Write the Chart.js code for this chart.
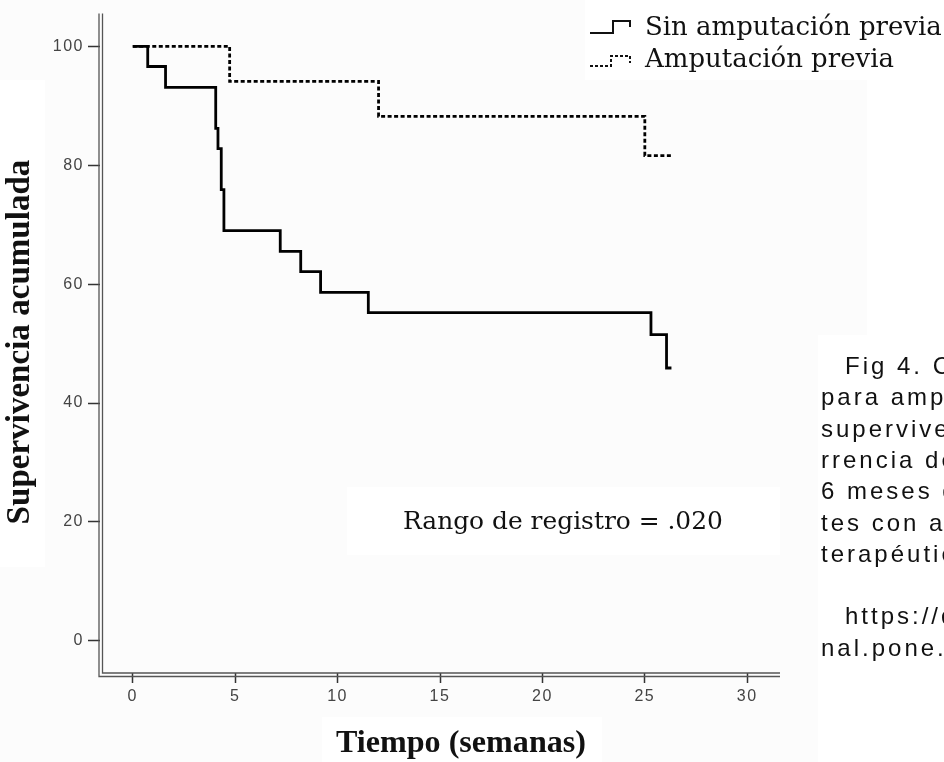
<!DOCTYPE html>
<html lang="es">
<head>
<meta charset="UTF-8">
<title>Supervivencia acumulada</title>
<script src="https://cdn.jsdelivr.net/npm/chart.js@4"></script>
<style>
  html, body { margin: 0; padding: 0; background: #fcfcfc; overflow: hidden; }
  #wrap { position: relative; width: 944px; height: 762px; }
</style>
</head>
<body>
<div id="wrap"><canvas id="km" width="944" height="762"></canvas></div>
<script>
// curvas Kaplan-Meier, tiempo en semanas, supervivencia en %
const sinTiempo = [0, 0.73, 1.6, 4.05, 4.16, 4.32, 4.45, 7.2, 8.2, 9.17, 11.5, 25.3, 26.06, 26.3];
const sinSuperv = [100, 96.6, 93.1, 86.2, 82.8, 75.9, 69.0, 65.5, 62.1, 58.6, 55.2, 51.5, 45.9, 45.9];
const conTiempo = [0, 4.73, 12.0, 25.0, 26.3];
const conSuperv = [100, 94.1, 88.2, 81.6, 81.6];

const xTicks = [0, 5, 10, 15, 20, 25, 30];
const yTicks = [0, 20, 40, 60, 80, 100];

const serieNombres = ['Sin amputación previa', 'Amputación previa'];
const tituloX = 'Tiempo (semanas)';
const tituloY = 'Supervivencia acumulada';
const nota = 'Rango de registro = .020';
const pieLineas = [
  'Fig 4. Curvas de Kaplan-Meier',
  'para amputación mayor, de',
  'supervivencia libre de ocu-',
  'rrencia de amputación a los',
  '6 meses de los pacien-',
  'tes con abordaje previo',
  'terapéutico.',
  '',
  'https://doi.org/10.1371/jour-',
  'nal.pone.0000000.g004'
];

function puntos(xs, ys) {
  return xs.map((x, i) => ({ x: x, y: ys[i] }));
}

// ajusta el tamaño de letra a un ancho dado
function tamano(ctx, texto, familia, peso, ancho) {
  ctx.font = peso + ' 100px ' + familia;
  return 100 * ancho / ctx.measureText(texto).width;
}

const fondo = {
  id: 'fondo',
  beforeDraw(chart) {
    const ctx = chart.ctx;
    ctx.save();
    ctx.fillStyle = '#fcfcfc';
    ctx.fillRect(0, 0, chart.width, chart.height);
    ctx.fillStyle = '#ffffff';
    ctx.fillRect(585, 0, 359, 80);
    ctx.fillRect(867, 80, 77, 260);
    ctx.fillRect(818, 335, 126, 427);
    ctx.fillRect(347, 487, 433, 68);
    ctx.fillRect(322, 717, 280, 45);
    ctx.fillRect(0, 80, 45, 487);
    ctx.restore();
    ctx.letterSpacing = '1.5px';
  }
};

const adornos = {
  id: 'adornos',
  afterDraw(chart) {
    const ctx = chart.ctx;
    const a = chart.chartArea;
    ctx.save();
    ctx.letterSpacing = '0px';

    // ejes dobles
    ctx.strokeStyle = '#555';
    ctx.lineWidth = 1.3;
    ctx.beginPath();
    ctx.moveTo(a.left - 1, a.top); ctx.lineTo(a.left - 1, a.bottom + 3.5);
    ctx.lineTo(a.right, a.bottom + 3.5);
    ctx.moveTo(a.left + 2.5, a.top); ctx.lineTo(a.left + 2.5, a.bottom);
    ctx.lineTo(a.right, a.bottom);
    ctx.stroke();

    // leyenda
    ctx.strokeStyle = '#111';
    ctx.lineWidth = 2;
    ctx.beginPath();
    ctx.moveTo(590, 33); ctx.lineTo(613, 33); ctx.lineTo(613, 21);
    ctx.lineTo(630, 21); ctx.lineTo(630, 27);
    ctx.stroke();
    ctx.setLineDash([3, 2]);
    ctx.beginPath();
    ctx.moveTo(590, 66); ctx.lineTo(611, 66); ctx.lineTo(611, 56);
    ctx.lineTo(630, 56); ctx.lineTo(630, 63);
    ctx.stroke();
    ctx.setLineDash([]);

    ctx.fillStyle = '#111';
    ctx.textAlign = 'left';
    ctx.textBaseline = 'alphabetic';
    let s = tamano(ctx, serieNombres[0], '"DejaVu Serif"', 'normal', 297);
    ctx.font = s + 'px "DejaVu Serif"';
    ctx.fillText(serieNombres[0], 645, 35);
    ctx.fillText(serieNombres[1], 645, 67);

    // nota
    s = tamano(ctx, nota, '"DejaVu Serif"', 'normal', 320);
    ctx.font = s + 'px "DejaVu Serif"';
    ctx.fillText(nota, 403, 529);

    // títulos de ejes
    s = tamano(ctx, tituloX, '"Liberation Serif"', 'bold', 250);
    ctx.font = 'bold ' + s + 'px "Liberation Serif"';
    ctx.textAlign = 'center';
    ctx.fillText(tituloX, 461, 752);
    s = tamano(ctx, tituloY, '"Liberation Serif"', 'bold', 365);
    ctx.font = 'bold ' + s + 'px "Liberation Serif"';
    ctx.translate(29, 342);
    ctx.rotate(-Math.PI / 2);
    ctx.fillText(tituloY, 0, 0);
    ctx.setTransform(1, 0, 0, 1, 0, 0);

    // pie de figura (recortado por el borde)
    ctx.textAlign = 'left';
    ctx.font = '24px "Liberation Sans"';
    ctx.letterSpacing = '3px';
    pieLineas.forEach((t, i) => {
      const x = (i === 0 || i === 8) ? 845 : 821;
      ctx.fillText(t, x, 374 + 31.3 * i);
    });
    ctx.restore();
  }
};

new Chart(document.getElementById('km'), {
  type: 'line',
  data: {
    datasets: [
      {
        label: serieNombres[0],
        data: puntos(sinTiempo, sinSuperv),
        borderColor: '#000',
        borderWidth: 2.8,
        stepped: 'before',
        pointRadius: 0,
        fill: false
      },
      {
        label: serieNombres[1],
        data: puntos(conTiempo, conSuperv),
        borderColor: '#000',
        borderWidth: 2.8,
        borderDash: [4, 2.5],
        stepped: 'before',
        pointRadius: 0,
        fill: false
      }
    ]
  },
  options: {
    responsive: false,
    animation: false,
    devicePixelRatio: 1,
    layout: { padding: { top: 12, right: 164, left: 0, bottom: 0 } },
    plugins: { legend: { display: false }, tooltip: { enabled: false } },
    scales: {
      x: {
        type: 'linear',
        min: -1.6,
        max: 31.6,
        afterBuildTicks: sc => { sc.ticks = xTicks.map(v => ({ value: v })); },
        afterFit: sc => { sc.height = 89; },
        grid: { drawOnChartArea: false, drawTicks: true, tickLength: 10, tickColor: '#333', tickWidth: 1.5 },
        border: { display: false },
        ticks: { color: '#444', padding: 4, font: { family: '"Liberation Sans"', size: 16 } }
      },
      y: {
        min: -5.4,
        max: 105.5,
        afterBuildTicks: sc => { sc.ticks = yTicks.map(v => ({ value: v })); },
        afterFit: sc => { sc.width = 100; },
        grid: { drawOnChartArea: false, drawTicks: true, tickLength: 12, tickColor: '#333', tickWidth: 1.5 },
        border: { display: false },
        ticks: { color: '#444', padding: 4, font: { family: '"Liberation Sans"', size: 16 } }
      }
    }
  },
  plugins: [fondo, adornos]
});
</script>
</body>
</html>
